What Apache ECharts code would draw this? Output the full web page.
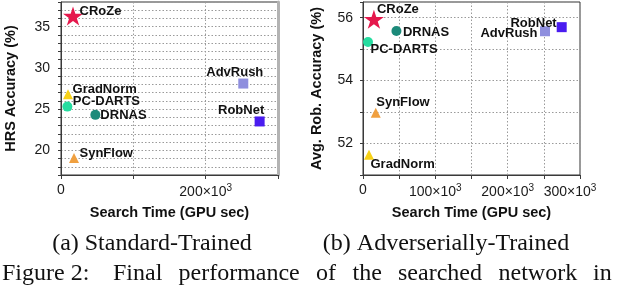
<!DOCTYPE html>
<html><head><meta charset="utf-8">
<script src="https://cdn.jsdelivr.net/npm/echarts@6/dist/echarts.min.js"></script>
<style>html,body{margin:0;padding:0;background:#fff}#c{width:618px;height:292px}</style>
</head><body><div id="c"></div>
<script>
// ---- data ----
const methods = ['CRoZe', 'GradNorm', 'PC-DARTS', 'DRNAS', 'SynFlow', 'AdvRush', 'RobNet'];
const stdSearchTime = [16600, 9700, 8800, 47500, 18000, 252000, 274600];
const stdHrsAcc = [36.3, 26.8, 25.3, 24.3, 19.05, 28.1, 23.5];
const advSearchTime = [15100, 8300, 6900, 46200, 17600, 251600, 274700];
const advRobAcc = [55.95, 51.64, 55.23, 55.58, 52.98, 55.57, 55.70];
const stdXTickLabels = [0, 200000];
const advXTickLabels = [0, 100000, 200000, 300000];
const stdYTickLabels = [20, 25, 30, 35];
const advYTickLabels = [52, 54, 56];
const captionA = '(a) Standard-Trained';
const captionB = '(b) Adverserially-Trained';
const figWords = ['Figure 2:', 'Final', 'performance', 'of', 'the', 'searched', 'network', 'in'];

// ---- styles ----
const STAR = 'path://M0,-10 L2.245,-3.09 L9.511,-3.09 L3.633,1.18 L5.878,8.09 L0,3.82 L-5.878,8.09 L-3.633,1.18 L-9.511,-3.09 L-2.245,-3.09 Z';
const methodStyle = {
  'CRoZe':    {symbol: STAR, size: 20, color: '#E5184C'},
  'GradNorm': {symbol: 'triangle', size: 10, color: '#F7D117'},
  'PC-DARTS': {symbol: 'circle', size: 10, color: '#26DCA0'},
  'DRNAS':    {symbol: 'circle', size: 10, color: '#1C8A7A'},
  'SynFlow':  {symbol: 'triangle', size: 10, color: '#F0A040'},
  'AdvRush':  {symbol: 'rect', size: 10, color: '#8E8EDE'},
  'RobNet':   {symbol: 'rect', size: 10, color: '#4A1CF0'}
};
// label anchor offsets from the symbol centre [dx, dy, align]
const stdLabelPos = {
  'CRoZe': [6.5, -5, 'left'], 'GradNorm': [4.5, -5, 'left'], 'PC-DARTS': [5.5, -5, 'left'],
  'DRNAS': [5, 1, 'left'], 'SynFlow': [5.5, -5, 'left'], 'AdvRush': [-8.5, -11, 'center'],
  'RobNet': [-18.5, -11.5, 'center']
};
const advLabelPos = {
  'CRoZe': [3, -10.5, 'left'], 'GradNorm': [1.5, 10, 'left'], 'PC-DARTS': [2.5, 7.5, 'left'],
  'DRNAS': [6.5, 1.5, 'left'], 'SynFlow': [0.5, -10.5, 'left'], 'AdvRush': [-7.5, 2.3, 'right'],
  'RobNet': [-5, -4, 'right']
};

const SANS = 'Liberation Sans';
const SERIF = 'Liberation Serif';
const AX = '#3a3a3a';

function sup(v, tail) {
  if (v === 0) return '{n|0}';
  return '{n|' + (v / 1000) + '×10}{s|3}' + (tail ? '{e|}' : '');
}
const richX = {
  n: {fontFamily: SANS, fontSize: 14, color: '#1a1a1a'},
  s: {fontFamily: SANS, fontSize: 10, color: '#1a1a1a', padding: [0, 0, 9, 0]},
  e: {width: 20, height: 10}
};

function mkSeries(times, accs, posMap, xi, yi) {
  return methods.map((m, i) => {
    const st = methodStyle[m];
    const p = posMap[m];
    return {
      type: 'scatter', name: m, xAxisIndex: xi, yAxisIndex: yi,
      data: [[times[i], accs[i]]],
      symbol: st.symbol, symbolSize: st.size, symbolKeepAspect: true,
      itemStyle: {color: st.color, opacity: 1},
      z: m === 'CRoZe' ? 5 : 3,
      label: {
        show: true, formatter: m,
        position: [st.size / 2 + p[0], st.size / 2 + p[1]],
        align: p[2], verticalAlign: 'middle',
        fontFamily: SANS, fontWeight: 'bold', fontSize: 13, color: '#111'
      },
      emphasis: {disabled: true}
    };
  });
}

const gridLine = {show: true, lineStyle: {color: '#9a9a9a', type: [1.5, 2], width: 1}};

const option = {
  animation: false,
  backgroundColor: '#fff',
  grid: [
    {left: 61, top: 2, width: 217, height: 173, show: true, borderColor: '#333', borderWidth: 1},
    {left: 363, top: 2, width: 217, height: 173, show: true, borderColor: '#333', borderWidth: 1}
  ],
  xAxis: [
    {
      gridIndex: 0, type: 'value', min: 0, max: 300000, interval: 100000,
      name: 'Search Time (GPU sec)', nameLocation: 'middle', nameGap: 30,
      nameTextStyle: {fontFamily: SANS, fontWeight: 'bold', fontSize: 14.5, color: '#111'},
      axisLine: {lineStyle: {color: AX}},
      axisTick: {show: true, length: 4, lineStyle: {color: AX}},
      axisLabel: {margin: 8, formatter: v => stdXTickLabels.includes(v) ? sup(v) : '', rich: richX},
      splitLine: gridLine
    },
    {
      gridIndex: 1, type: 'value', min: 0, max: 300000, interval: 50000,
      name: 'Search Time (GPU sec)', nameLocation: 'middle', nameGap: 30,
      nameTextStyle: {fontFamily: SANS, fontWeight: 'bold', fontSize: 14.5, color: '#111'},
      axisLine: {lineStyle: {color: AX}},
      axisTick: {show: true, length: 4, lineStyle: {color: AX}},
      axisLabel: {margin: 8, rich: richX, formatter: v => {
        if (!advXTickLabels.includes(v)) return '';
        return sup(v, v === 300000);
      }},
      splitLine: gridLine
    }
  ],
  yAxis: [
    {
      gridIndex: 0, type: 'value', min: 17, max: 38, interval: 1,
      name: 'HRS Accuracy (%)', nameLocation: 'middle', nameGap: 43,
      nameTextStyle: {fontFamily: SANS, fontWeight: 'bold', fontSize: 14.5, color: '#111'},
      axisLine: {lineStyle: {color: AX}},
      axisTick: {show: true, length: 3, lineStyle: {color: AX}},
      axisLabel: {margin: 11, fontFamily: SANS, fontSize: 14, color: '#1a1a1a',
        formatter: v => stdYTickLabels.includes(v) ? String(v) : ''},
      splitLine: gridLine
    },
    {
      gridIndex: 0, type: 'value', min: 17, max: 38, position: 'right',
      axisLine: {show: true, lineStyle: {color: '#b3b3b3', width: 3}},
      axisTick: {show: false}, axisLabel: {show: false}, splitLine: {show: false}
    },
    {
      gridIndex: 1, type: 'value', min: 51, max: 56.5, interval: 1,
      name: 'Avg. Rob. Accuracy (%)', nameLocation: 'middle', nameGap: 39,
      nameTextStyle: {fontFamily: SANS, fontWeight: 'bold', fontSize: 14.5, color: '#111'},
      axisLine: {lineStyle: {color: AX}},
      axisTick: {show: true, length: 3, lineStyle: {color: AX}},
      axisLabel: {margin: 10, fontFamily: SANS, fontSize: 14, color: '#1a1a1a',
        formatter: v => advYTickLabels.includes(v) ? String(v) : ''},
      splitLine: gridLine
    }
  ],
  series: [].concat(
    mkSeries(stdSearchTime, stdHrsAcc, stdLabelPos, 0, 0),
    mkSeries(advSearchTime, advRobAcc, advLabelPos, 1, 2)
  ),
  graphic: []
};

const capStyle = {fontFamily: SERIF, fontSize: 24, fill: '#111'};
option.graphic.push({type: 'text', x: 152, y: 244,
  style: Object.assign({text: captionA, textAlign: 'center', textVerticalAlign: 'middle', align: 'center', verticalAlign: 'middle'}, capStyle)});
option.graphic.push({type: 'text', x: 446, y: 244,
  style: Object.assign({text: captionB, textAlign: 'center', textVerticalAlign: 'middle', align: 'center', verticalAlign: 'middle'}, capStyle)});
const figX = [2, 113, 178.5, 316, 352.5, 398, 498.5, 593];
figWords.forEach((w, i) => {
  option.graphic.push({type: 'text', x: figX[i], y: 274,
    style: Object.assign({text: w, textAlign: 'left', textVerticalAlign: 'middle', align: 'left', verticalAlign: 'middle'}, capStyle)});
});

const chart = echarts.init(document.getElementById('c'), null, {renderer: 'canvas'});
chart.setOption(option);
</script>
</body></html>
